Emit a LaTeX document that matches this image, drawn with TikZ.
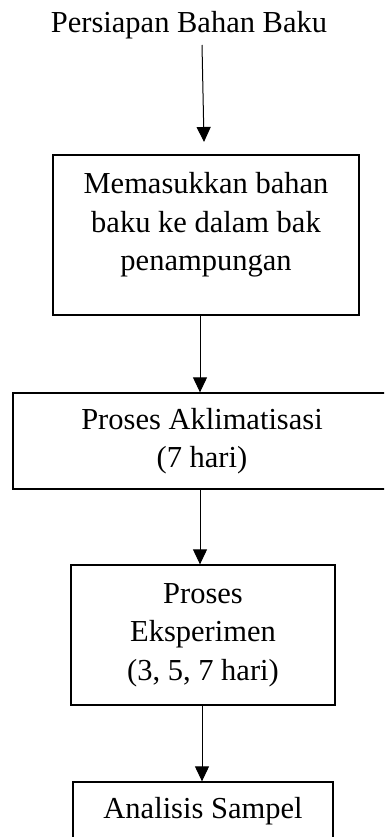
\documentclass[tikz,border=0pt]{standalone}
\usepackage{fontspec}
\setmainfont{Liberation Serif}
\usetikzlibrary{arrows.meta}

\tikzset{
  stepbox/.style={draw, line width=1.3pt, align=center, inner sep=0pt,
    font=\fontsize{30.5}{38.5}\selectfont},
  arr/.style={line width=1pt, -{Triangle[length=15pt,width=14pt]}}
}

\begin{document}
\begin{tikzpicture}[x=1pt, y=-1pt]
  \clip (0,0) rectangle (384,837);
  \useasboundingbox (0,0) rectangle (384,837);

  \node[font=\fontsize{30.5}{38.5}\selectfont] (start) at (189, 25) {Persiapan Bahan Baku};

  \node[stepbox, minimum width=306pt, minimum height=160pt, text depth=27pt] (box1) at (206, 235)
    {Memasukkan bahan\\baku ke dalam bak\\penampungan};
  \node[stepbox, minimum width=378pt, minimum height=96pt] (box2) at (202, 441)
    {Proses Aklimatisasi\\(7 hari)};
  \node[stepbox, minimum width=264pt, minimum height=140pt] (box3) at (203, 635)
    {Proses\\Eksperimen\\(3, 5, 7 hari)};
  \node[stepbox, minimum width=260pt, minimum height=58pt] (box4) at (203, 811)
    {Analisis Sampel};

  \coordinate (a0) at (202, 45);
  \coordinate (a1) at (204, 142);
  \draw[arr] (a0) -- (a1);

  \draw[arr] (box1.south -| 200,0) -- (box2.north -| 200,0);
  \draw[arr] (box2.south -| 200,0) -- (box3.north -| 200,0);
  \draw[arr] (box3.south -| 202,0) -- (box4.north -| 202,0);
\end{tikzpicture}
\end{document}
